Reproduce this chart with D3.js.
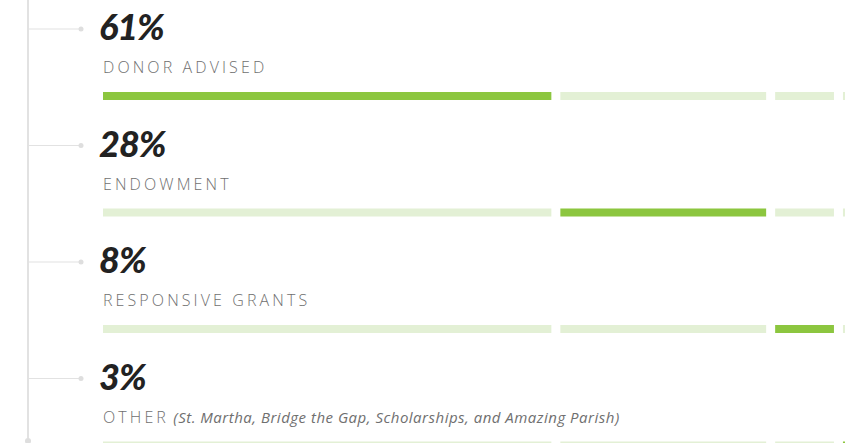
<!DOCTYPE html>
<html lang="en">
<head>
    <meta charset="UTF-8">
    <title>Grant types</title>
    <style>
        body {
            margin: 0;
            padding: 0;
            background: #fff;
        }
        .pct {
            font-family: "Lato", "DejaVu Sans", sans-serif;
            font-weight: 900;
            font-style: italic;
            font-size: 36px;
            letter-spacing: -1px;
            fill: #222;
        }
        .cat {
            font-family: "Open Sans", sans-serif;
            font-weight: 300;
            font-size: 16px;
            letter-spacing: 3.1px;
            fill: #6f6f6f;
        }
        .note {
            font-style: italic;
            font-weight: 400;
            font-size: 15px;
            letter-spacing: 0.5px;
        }
        .spine, .tick-line {
            stroke: #e2e2e2;
        }
        .knob {
            fill: #dedede;
        }
    </style>
</head>
<body>
    <svg id="chart"></svg>
    <script src="https://d3js.org/d3.v7.min.js"></script>
    <script>
        const categories = ["DONOR ADVISED", "ENDOWMENT", "RESPONSIVE GRANTS", "OTHER"];
        const percents = [61, 28, 8, 3];
        const labels = ["61%", "28%", "8%", "3%"];
        const notes = ["", "", "", "(St. Martha, Bridge the Gap, Scholarships, and Amazing Parish)"];

        const width = 845;
        const height = 443;
        const green = "#8cc63f";
        const paleGreen = "#e3f0d5";
        const gap = 9;

        const svg = d3.select("#chart")
            .attr("width", width)
            .attr("height", height);

        // one row per category
        const y = d3.scaleLinear()
            .domain([0, 1])
            .range([29, 145.5]);

        // stacked bar: each segment width proportional to its share
        const x = d3.scaleLinear()
            .domain([0, 1])
            .range([0, 7.35]);

        const starts = [];
        let acc = 103;
        percents.forEach(p => {
            starts.push(acc);
            acc += x(p) + gap;
        });

        // vertical spine
        svg.append("line")
            .attr("class", "spine")
            .attr("x1", 28).attr("x2", 28)
            .attr("y1", 0).attr("y2", 441)
            .attr("stroke-width", 2);
        svg.append("circle")
            .attr("class", "knob")
            .attr("cx", 28).attr("cy", 441).attr("r", 3);

        const rows = svg.selectAll("g.row")
            .data(categories)
            .join("g")
            .attr("class", "row")
            .attr("transform", (d, i) => `translate(0,${y(i)})`);

        rows.append("line")
            .attr("class", "tick-line")
            .attr("x1", 29).attr("x2", 80)
            .attr("y1", 0).attr("y2", 0)
            .attr("stroke-width", 1.2);
        rows.append("circle")
            .attr("class", "knob")
            .attr("cx", 81).attr("cy", 0).attr("r", 2.5);

        rows.append("text")
            .attr("class", "pct")
            .attr("x", 99)
            .attr("y", 11)
            .text((d, i) => labels[i]);

        const cat = rows.append("text")
            .attr("class", "cat")
            .attr("x", 103)
            .attr("y", 44)
            .text(d => d);
        cat.filter((d, i) => notes[i])
            .append("tspan")
            .attr("class", "note")
            .text(d => " " + notes[categories.indexOf(d)]);

        rows.each(function(d, i) {
            d3.select(this).selectAll("rect")
                .data(percents)
                .join("rect")
                .attr("x", (p, j) => starts[j])
                .attr("y", 63)
                .attr("width", p => x(p))
                .attr("height", 8)
                .attr("fill", (p, j) => j === i ? green : paleGreen);
        });
    </script>
</body>
</html>
